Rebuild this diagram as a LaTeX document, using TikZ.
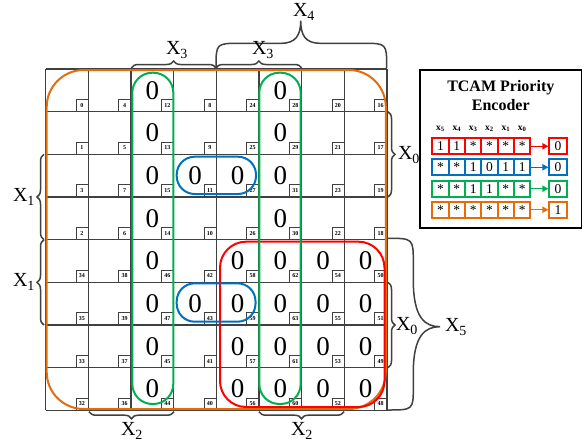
\documentclass[tikz,border=0pt]{standalone}
\usepackage{fontspec}
\setmainfont{Liberation Serif}
\usetikzlibrary{decorations.pathreplacing,arrows.meta}
\definecolor{gridc}{RGB}{64,64,64}
\definecolor{kred}{RGB}{255,0,0}
\definecolor{kblue}{RGB}{0,112,192}
\definecolor{kgreen}{RGB}{0,176,80}
\definecolor{korange}{RGB}{228,108,10}
\begin{document}
\begin{tikzpicture}[x=1pt,y=-1pt,
  gridline/.style={draw=gridc,line width=1.5pt},
  numbox/.style={draw=gridc,fill=white,line width=0.8pt,minimum size=12pt,inner sep=0pt,font=\bfseries\fontsize{6}{6}\selectfont},
  zero/.style={inner sep=0pt,font=\fontsize{27}{30}\selectfont},
  lbl/.style={inner sep=0pt,font=\fontsize{20}{22}\selectfont},
  brc/.style={draw=gridc,line width=1.5pt,decorate,decoration={brace,amplitude=7pt}},
  bigbrc/.style={draw=gridc,line width=1.5pt},
  region/.style={line width=2pt},
  lcell/.style={draw=#1,fill=white,line width=1.8pt,minimum width=16.33pt,minimum height=16pt,inner sep=0pt,font=\fontsize{13.5}{14}\selectfont},
  hdr/.style={inner sep=0pt,font=\bfseries\fontsize{9.5}{10}\selectfont}
]
\useasboundingbox (0,0) rectangle (587,445);
\fill[white] (0,0) rectangle (587,445);
% grid
\foreach \k in {0,...,8}{
  \draw[gridline] (45.7+\k*42.67,69) -- (45.7+\k*42.67,410.36);
  \draw[gridline] (45.7,69+\k*42.67) -- (387.06,69+\k*42.67);
}
% cell numbers
\foreach \row [count=\j from 0] in {{0,4,12,8,24,28,20,16},{1,5,13,9,25,29,21,17},{3,7,15,11,27,31,23,19},{2,6,14,10,26,30,22,18},{34,38,46,42,58,62,54,50},{35,39,47,43,59,63,55,51},{33,37,45,41,57,61,53,49},{32,36,44,40,56,60,52,48}}{
  \foreach \n [count=\i from 0] in \row {
    \node[numbox,anchor=south east] (n\n) at (45.7+\i*42.67+42.67,69+\j*42.67+42.67) {\n};
  }
}
% zeros
\foreach \i/\j in {2/0,2/1,2/2,2/3,2/4,2/5,2/6,2/7,5/0,5/1,5/2,5/3,5/4,5/5,5/6,5/7,3/2,3/5,4/2,4/4,4/5,4/6,4/7,6/4,6/5,6/6,6/7,7/4,7/5,7/6,7/7}{
  \node[zero] (z\i\j) at (45.7+\i*42.67+21.33,69+\j*42.67+21.33) {0};
}
% regions
\draw[region,korange,rounded corners=37pt] (46.7,70) rectangle (385.8,409);
\draw[region,kred,rounded corners=26pt] (220,241.7) rectangle (384.5,407);
\draw[region,kblue,rounded corners=18pt] (176.7,156.7) rectangle (256,194);
\draw[region,kblue,rounded corners=18pt] (176.7,283.3) rectangle (255.5,321.7);
\draw[region,kgreen,rounded corners=20pt] (132.3,72.7) rectangle (173.3,404);
\draw[region,kgreen,rounded corners=20pt] (259.3,72.7) rectangle (300.7,404);
% small braces
\draw[brc] (131.3,68) -- (216,68);
\draw[brc] (216,68) -- (301.7,68);
\draw[brc] (44,239.7) -- (44,154.3);
\draw[brc] (44,325) -- (44,239.7);
\draw[brc] (388,111.7) -- (388,197);
\draw[brc] (388,282.3) -- (388,367.7);
\draw[brc] (174,411.7) -- (89,411.7);
\draw[brc] (344,411.7) -- (259,411.7);
% big braces
\draw[bigbrc] (216,68) .. controls (216,43.3) .. (240,43.3) -- (281,43.3) .. controls (296,43.3) and (300.7,35) .. (300.7,20.7) .. controls (300.7,35) and (305.4,43.3) .. (320,43.3) -- (363,43.3) .. controls (386.7,43.3) .. (386.7,68);
\draw[bigbrc] (387,238.3) .. controls (413.3,238.3) .. (413.3,263) -- (413.3,280) .. controls (413.3,318) and (425,326.7) .. (440,326.7) .. controls (425,326.7) and (413.3,335.4) .. (413.3,373) -- (413.3,387) .. controls (413.3,410) .. (387,410);
% labels
\node[lbl] (lx3a) at (177,50) {X\textsubscript{3}};
\node[lbl] (lx3b) at (263,50) {X\textsubscript{3}};
\node[lbl] (lx4) at (304,12) {X\textsubscript{4}};
\node[lbl] (lx1a) at (24,197) {X\textsubscript{1}};
\node[lbl] (lx1b) at (24,282) {X\textsubscript{1}};
\node[lbl] (lx0a) at (409,155) {X\textsubscript{0}};
\node[lbl] (lx0b) at (407,326) {X\textsubscript{0}};
\node[lbl] (lx5) at (456,327) {X\textsubscript{5}};
\node[lbl] (lx2a) at (132,431) {X\textsubscript{2}};
\node[lbl] (lx2b) at (302,431) {X\textsubscript{2}};
% legend
\draw[black,line width=1.2pt] (420,70) rectangle (581.7,228);
\node[align=center,inner sep=0pt,font=\bfseries\fontsize{16}{19}\selectfont] (title) at (500.8,95.5) {TCAM Priority\\Encoder};
\foreach \t [count=\k from 0] in {5,4,3,2,1,0}{
  \node[hdr] (h\k) at (440.5+\k*16.33,129) {x\textsubscript{\t}};
}
\foreach \c/\y/\vals/\o [count=\r] in {kred/146.3/{1,1,*,*,*,*}/0,kblue/167.3/{*,*,1,0,1,1}/0,kgreen/188.7/{*,*,1,1,*,*}/0,korange/209.7/{*,*,*,*,*,*}/1}{
  \foreach \v [count=\k from 0] in \vals {
    \node[lcell=\c] (c\r-\k) at (440.5+\k*16.33,\y) {\v};
  }
  \node[lcell=\c,minimum width=17.3pt] (o\r) at (558,\y) {\o};
  \draw[\c,line width=1.5pt,-{Triangle[length=6pt,width=6pt]}] (c\r-5.east) -- (o\r.west);
}
\end{tikzpicture}
\end{document}
